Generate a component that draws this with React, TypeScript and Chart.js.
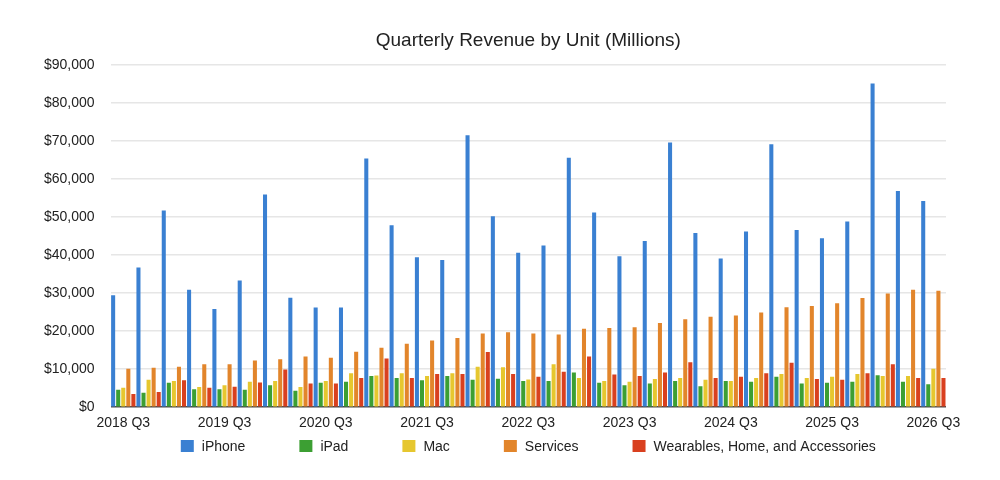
import { useEffect, useRef } from "react"
import { Chart, registerables } from "chart.js"

Chart.register(...registerables)

// fiscal quarters, one group of bars each
const quarters = [
  "2018 Q3", "2018 Q4", "2019 Q1", "2019 Q2", "2019 Q3", "2019 Q4",
  "2020 Q1", "2020 Q2", "2020 Q3", "2020 Q4", "2021 Q1", "2021 Q2",
  "2021 Q3", "2021 Q4", "2022 Q1", "2022 Q2", "2022 Q3", "2022 Q4",
  "2023 Q1", "2023 Q2", "2023 Q3", "2023 Q4", "2024 Q1", "2024 Q2",
  "2024 Q3", "2024 Q4", "2025 Q1", "2025 Q2", "2025 Q3", "2025 Q4",
  "2026 Q1", "2026 Q2", "2026 Q3",
]

// only every fourth quarter is labelled on the axis
const shownTicks = [
  "2018 Q3", "2019 Q3", "2020 Q3", "2021 Q3", "2022 Q3",
  "2023 Q3", "2024 Q3", "2025 Q3", "2026 Q3",
]

const yTicks = [0, 10000, 20000, 30000, 40000, 50000, 60000, 70000, 80000, 90000]

// revenue in $ millions
const iphone = [
  29400, 36700, 51700, 30900, 25800, 33300, 55900, 28800, 26200, 26200, 65400,
  47800, 39400, 38700, 71500, 50200, 40600, 42500, 65600, 51200, 39700, 43700,
  69600, 45800, 39100, 46200, 69100, 46600, 44400, 48800, 85100, 56800, 54200,
]
const ipad = [
  4600, 3800, 6400, 4700, 4700, 4600, 5800, 4300, 6400, 6700, 8200,
  7700, 7100, 8200, 7200, 7500, 6900, 6900, 9100, 6400, 5800, 6200,
  6900, 5500, 6900, 6700, 8000, 6200, 6400, 6700, 8400, 6700, 6000,
]
const mac = [
  5100, 7200, 6900, 5300, 5800, 6700, 6900, 5300, 6900, 8900, 8300,
  8900, 8200, 8900, 10600, 10500, 7300, 11300, 7700, 6900, 6700, 7400,
  7700, 7200, 6900, 7700, 8700, 7700, 8000, 8700, 8200, 8200, 10100,
]
const services = [
  10100, 10400, 10600, 11300, 11300, 12300, 12600, 13300, 13000, 14600, 15600,
  16700, 17500, 18200, 19400, 19700, 19400, 19100, 20600, 20800, 21000, 22100,
  23100, 23800, 24100, 24900, 26300, 26600, 27300, 28700, 29900, 30900, 30600,
]
const wearables = [
  3500, 4000, 7100, 5100, 5400, 6500, 9900, 6200, 6200, 7700, 12800,
  7700, 8700, 8700, 14500, 8700, 8000, 9300, 13300, 8600, 8200, 9100,
  11800, 7700, 8000, 8900, 11700, 7400, 7200, 8900, 11300, 7700, 7700,
]

const FONT = "'Liberation Sans', Helvetica, Arial, sans-serif"
const TEXT = "#222"

// legend drawn by hand so the item spacing can be wide without eating vertical space
const bottomLegend = {
  id: "bottomLegend",
  afterDraw(chart: Chart) {
    const { ctx, chartArea } = chart
    const boxW = 13
    const boxH = 12
    const gap = 8
    const spacing = 54
    const y = chart.height - 34
    ctx.save()
    ctx.font = `14px ${FONT}`
    const items = chart.data.datasets.map((ds) => ({
      text: ds.label as string,
      color: ds.backgroundColor as string,
      w: boxW + gap + ctx.measureText(ds.label as string).width,
    }))
    const total = items.reduce((s, it) => s + it.w, 0) + spacing * (items.length - 1)
    let x = (chartArea.left + chartArea.right) / 2 - total / 2
    ctx.textBaseline = "middle"
    items.forEach((it) => {
      ctx.fillStyle = it.color
      ctx.fillRect(x, y - boxH / 2, boxW, boxH)
      ctx.fillStyle = TEXT
      ctx.fillText(it.text, x + boxW + gap, y + 1)
      x += it.w + spacing
    })
    ctx.restore()
  },
}

export default function App() {
  const chartRef = useRef<HTMLCanvasElement>(null)
  const chartInstance = useRef<Chart | null>(null)

  useEffect(() => {
    document.body.style.margin = "0"
    if (!chartRef.current) return
    if (chartInstance.current) chartInstance.current.destroy()
    const ctx = chartRef.current.getContext("2d")
    if (!ctx) return

    const bar = (label: string, data: number[], color: string) => ({
      label,
      data,
      backgroundColor: color,
      categoryPercentage: 1.0,
      barPercentage: 0.8,
    })

    chartInstance.current = new Chart(ctx, {
      type: "bar",
      data: {
        labels: quarters,
        datasets: [
          bar("iPhone", iphone, "#3a80d2"),
          bar("iPad", ipad, "#3c9f33"),
          bar("Mac", mac, "#e6c72f"),
          bar("Services", services, "#e2852b"),
          bar("Wearables, Home, and Accessories", wearables, "#d9401f"),
        ],
      },
      options: {
        responsive: true,
        maintainAspectRatio: false,
        animation: false,
        layout: { padding: { left: 28, right: 54, top: 0, bottom: 40 } },
        scales: {
          x: {
            grid: { display: false, drawTicks: false },
            border: { display: false },
            ticks: {
              autoSkip: false,
              maxRotation: 0,
              padding: 8,
              color: TEXT,
              font: { family: FONT, size: 14 },
              callback: (_v, i) => (shownTicks.includes(quarters[i]) ? quarters[i] : ""),
            },
          },
          y: {
            min: yTicks[0],
            max: yTicks[yTicks.length - 1],
            afterBuildTicks: (axis) => {
              axis.ticks = yTicks.map((value) => ({ value }))
            },
            border: { display: false },
            grid: {
              drawTicks: false,
              color: (c) => (c.tick && c.tick.value === 0 ? "#4a4a4a" : "#e6e6e6"),
              lineWidth: 1.5,
            },
            ticks: {
              padding: 16,
              color: TEXT,
              font: { family: FONT, size: 14 },
              callback: (v) => "$" + Number(v).toLocaleString("en-US"),
            },
          },
        },
        plugins: {
          legend: { display: false },
          tooltip: { enabled: false },
          title: {
            display: true,
            fullSize: false,
            text: "Quarterly Revenue by Unit (Millions)",
            color: TEXT,
            font: { family: FONT, size: 19, weight: "normal" },
            padding: { top: 29, bottom: 13 },
          },
        },
      },
      plugins: [bottomLegend],
    })

    return () => {
      if (chartInstance.current) {
        chartInstance.current.destroy()
        chartInstance.current = null
      }
    }
  }, [])

  return (
    <div style={{ width: 1000, height: 480, background: "#fff" }}>
      <canvas ref={chartRef} />
    </div>
  )
}
